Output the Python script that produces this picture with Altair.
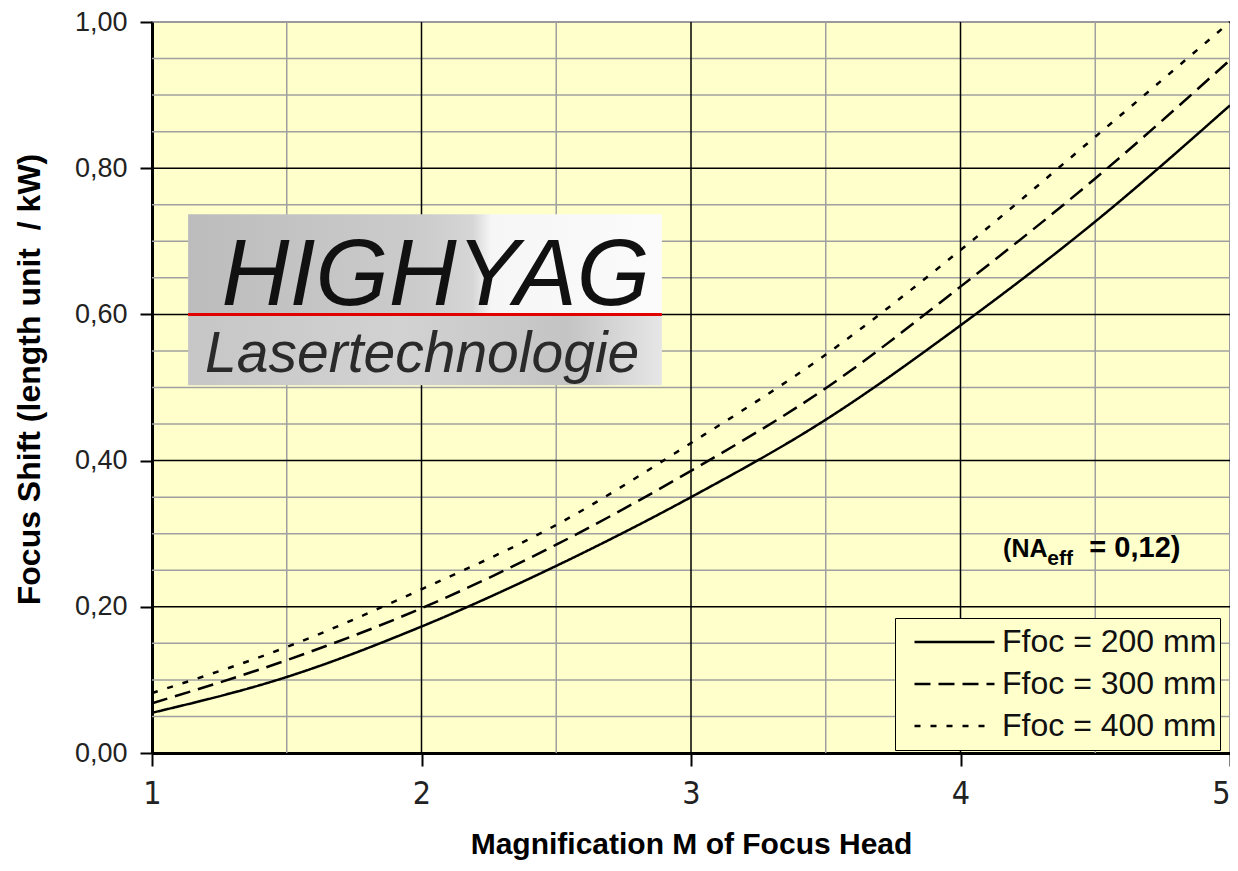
import altair as alt
import pandas as pd

# ---------------- data ----------------
M = [1, 1.5, 2, 2.5, 3, 3.5, 4, 4.5, 5]
F200 = [0.055, 0.104, 0.173, 0.256, 0.350, 0.456, 0.585, 0.727, 0.886]
F300 = [0.068, 0.127, 0.198, 0.285, 0.386, 0.499, 0.638, 0.786, 0.948]
F400 = [0.082, 0.145, 0.224, 0.312, 0.424, 0.545, 0.688, 0.843, 1.000]
series_labels = ["Ffoc = 200 mm", "Ffoc = 300 mm", "Ffoc = 400 mm"]

x_ticks = [1, 2, 3, 4, 5]
y_ticks = [0.0, 0.2, 0.4, 0.6, 0.8, 1.0]
x_major_grid = [2, 3, 4]
x_minor_grid = [1.5, 2.5, 3.5, 4.5]
y_major_grid = [0.2, 0.4, 0.6, 0.8]
y_minor_grid = [0.05, 0.10, 0.15, 0.25, 0.30, 0.35, 0.45, 0.50, 0.55,
                0.65, 0.70, 0.75, 0.85, 0.90, 0.95]

# logo box (in data units) and texts
logo_x = [1.134, 2.892]
logo_y_top = [0.600, 0.737]
logo_y_bottom = [0.503, 0.600]
logo_line_y = [0.600]
logo_title = ["HIGHYAG"]
logo_title_pos = [1.258, 0.613]
logo_sub = ["Lasertechnologie"]
logo_sub_pos = [1.197, 0.521]

# annotation
note_main = ["(NA"]
note_main_pos = [4.158, 0.268]
note_sub = ["eff"]
note_sub_pos = [4.322, 0.257]
note_tail = ["= 0,12)"]
note_tail_pos = [4.478, 0.268]

FONT = "Liberation Sans, Arial, sans-serif"
NARROW = "Liberation Sans Narrow, DejaVu Sans Condensed, Liberation Sans, Arial, sans-serif"

# ---------------- encodings ----------------
x_scale = alt.Scale(domain=[1, 5], nice=False, zero=False)
y_scale = alt.Scale(domain=[0, 1], nice=False, zero=False)

x_axis = alt.Axis(
    values=x_ticks, format="d", title="Magnification M of Focus Head", grid=False,
    domainColor="black", domainWidth=3, tickColor="black", tickWidth=2, tickSize=13,
    labelFont=NARROW, labelFontSize=32, labelColor="#222", labelPadding=12,
    labelFlush=False,
    labelAlign={"expr": "datum.value == 5 ? 'right' : 'center'"},
    titleFont=FONT, titleFontWeight="bold", titleFontSize=30,
    titleColor="black", titleBaseline="alphabetic", titleY=100,
)
y_axis = alt.Axis(
    values=y_ticks, labelExpr="replace(format(datum.value, '.2f'), '.', ',')",
    title="Focus Shift (length unit\u00a0 / kW)", grid=False,
    domainColor="black", domainWidth=3, tickColor="black", tickWidth=2, tickSize=12,
    labelFont=FONT, labelFontSize=27, labelColor="#222", labelPadding=13,
    titleFont=FONT, titleFontWeight="bold", titleFontSize=32, titleColor="black",
    titleBaseline="alphabetic", titleX=-113, titleY=357,
)


def X(field):
    return alt.X(f"{field}:Q", scale=x_scale, axis=x_axis)


def Y(field):
    return alt.Y(f"{field}:Q", scale=y_scale, axis=y_axis)


# ---------------- grid ----------------
g_xminor = alt.Chart(pd.DataFrame({"x": x_minor_grid})).mark_rule(
    color="#a0a0a0", strokeWidth=1.5).encode(x=X("x"))
g_yminor = alt.Chart(pd.DataFrame({"y": y_minor_grid})).mark_rule(
    color="#a0a0a0", strokeWidth=1.5).encode(y=Y("y"))
g_xmajor = alt.Chart(pd.DataFrame({"x": x_major_grid})).mark_rule(
    color="black", strokeWidth=1.5).encode(x=X("x"))
g_ymajor = alt.Chart(pd.DataFrame({"y": y_major_grid})).mark_rule(
    color="black", strokeWidth=1.5).encode(y=Y("y"))

# ---------------- logo ----------------
grad_top = alt.LinearGradient(
    gradient="linear", x1=0, x2=1, y1=0, y2=0,
    stops=[alt.GradientStop(color="#bcbcbc", offset=0),
           alt.GradientStop(color="#cccccc", offset=0.5),
           alt.GradientStop(color="#d6d6d6", offset=0.6),
           alt.GradientStop(color="#f6f6f6", offset=0.64),
           alt.GradientStop(color="#fbfbfb", offset=1)])
grad_bot = alt.LinearGradient(
    gradient="linear", x1=0, x2=1, y1=0, y2=0,
    stops=[alt.GradientStop(color="#c6c6c6", offset=0),
           alt.GradientStop(color="#d2d2d2", offset=0.45),
           alt.GradientStop(color="#c4c4c4", offset=0.8),
           alt.GradientStop(color="#e6e6e6", offset=1)])

logo_top = alt.Chart(pd.DataFrame({"x1": [logo_x[0]], "x2": [logo_x[1]],
                                   "y1": [logo_y_top[0]], "y2": [logo_y_top[1]]})
                     ).mark_rect(color=grad_top).encode(
    x=X("x1"), x2="x2", y=Y("y1"), y2="y2")
logo_bot = alt.Chart(pd.DataFrame({"x1": [logo_x[0]], "x2": [logo_x[1]],
                                   "y1": [logo_y_bottom[0]], "y2": [logo_y_bottom[1]]})
                     ).mark_rect(color=grad_bot).encode(
    x=X("x1"), x2="x2", y=Y("y1"), y2="y2")
logo_line = alt.Chart(pd.DataFrame({"x1": [logo_x[0]], "x2": [logo_x[1]],
                                    "y": logo_line_y})).mark_rule(
    color="#e00000", strokeWidth=3).encode(x=X("x1"), x2="x2", y=Y("y"))
logo_t1 = alt.Chart(pd.DataFrame({"x": [logo_title_pos[0]], "y": [logo_title_pos[1]],
                                  "t": logo_title})).mark_text(
    align="left", baseline="alphabetic", font=FONT, fontSize=94,
    fontStyle="italic", color="#111").encode(x=X("x"), y=Y("y"), text="t:N")
logo_t2 = alt.Chart(pd.DataFrame({"x": [logo_sub_pos[0]], "y": [logo_sub_pos[1]],
                                  "t": logo_sub})).mark_text(
    align="left", baseline="alphabetic", font=FONT, fontSize=57,
    fontStyle="italic", color="#2a2a2a").encode(x=X("x"), y=Y("y"), text="t:N")

# ---------------- curves ----------------
rows = []
for lab, vals in zip(series_labels, [F200, F300, F400]):
    for m, v in zip(M, vals):
        rows.append({"M": m, "v": v, "series": lab})
df = pd.DataFrame(rows)

curves = alt.Chart(df).mark_line(color="black", strokeWidth=2.5,
                                 interpolate="monotone").encode(
    x=X("M"), y=Y("v"),
    strokeDash=alt.StrokeDash(
        "series:N",
        scale=alt.Scale(domain=series_labels, range=[[1, 0], [16, 8], [6, 10]]),
        legend=alt.Legend(
            title=None, orient="none", legendX=743, legendY=596,
            fillColor="#FFFFCC", strokeColor="black", padding=3,
            symbolType="stroke", symbolSize=6400, symbolStrokeWidth=2.5,
            symbolStrokeColor="black", symbolOffset=15, clipHeight=42,
            labelFont=FONT, labelFontSize=32, labelColor="#111", labelOffset=6,
            labelLimit=400, rowPadding=0,
        ),
    ),
)

# ---------------- annotation ----------------
n1 = alt.Chart(pd.DataFrame({"x": [note_main_pos[0]], "y": [note_main_pos[1]],
                             "t": note_main})).mark_text(
    align="left", baseline="alphabetic", font=FONT, fontSize=25,
    fontWeight="bold", color="black").encode(x=X("x"), y=Y("y"), text="t:N")
n2 = alt.Chart(pd.DataFrame({"x": [note_sub_pos[0]], "y": [note_sub_pos[1]],
                             "t": note_sub})).mark_text(
    align="left", baseline="alphabetic", font=FONT, fontSize=21,
    fontWeight="bold", color="black").encode(x=X("x"), y=Y("y"), text="t:N")
n3 = alt.Chart(pd.DataFrame({"x": [note_tail_pos[0]], "y": [note_tail_pos[1]],
                             "t": note_tail})).mark_text(
    align="left", baseline="alphabetic", font=FONT, fontSize=29,
    fontWeight="bold", color="black").encode(x=X("x"), y=Y("y"), text="t:N")

chart = alt.layer(
    g_xminor, g_yminor, g_xmajor, g_ymajor,
    logo_top, logo_bot, logo_line, logo_t1, logo_t2,
    curves, n1, n2, n3,
).properties(
    width=1078, height=731,
    autosize=alt.AutoSizeParams(type="none"),
    padding={"left": 144, "top": 14, "right": 0, "bottom": 110},
    background="white",
).configure_view(fill="#FFFFCC", stroke="#9a9a9a", strokeWidth=2)

chart.save("out.html", embed_options={"renderer": "svg", "actions": False})
